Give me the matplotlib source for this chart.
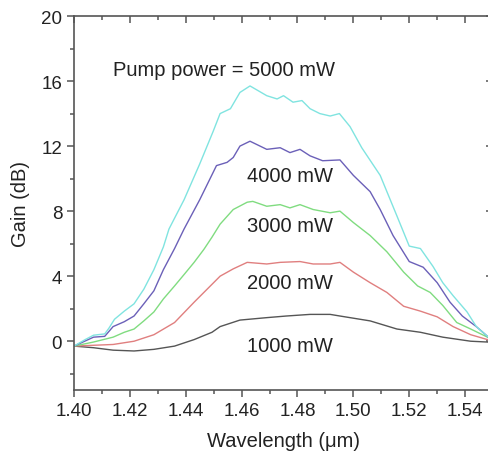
import numpy as np
import matplotlib.pyplot as plt
from matplotlib.ticker import MultipleLocator

plt.rcParams['font.family'] = ['Liberation Sans', 'DejaVu Sans']

# gain spectra for each pump power (wavelength in um, gain in dB)
wl_5000 = [1.400, 1.404, 1.407, 1.411, 1.4125, 1.4145, 1.418, 1.4215, 1.425, 1.4286, 1.432,
           1.434, 1.4394, 1.445, 1.4498, 1.4523, 1.456, 1.4594, 1.463, 1.469, 1.4727,
           1.475, 1.4784, 1.4816, 1.4845, 1.488, 1.4917, 1.495, 1.4988, 1.503, 1.5096,
           1.512, 1.5156, 1.520, 1.524, 1.5285, 1.532, 1.5357, 1.5407, 1.544, 1.548, 1.550]
g_5000 = [-0.3, 0.1, 0.37, 0.45, 0.8, 1.35, 1.85, 2.3, 3.2, 4.4, 5.8,
          6.9, 8.7, 10.9, 12.9, 14.0, 14.3, 15.3, 15.7, 15.1, 14.9,
          15.1, 14.7, 14.8, 14.3, 14.0, 13.85, 14.0, 13.2, 11.9, 10.2,
          9.2, 7.7, 5.85, 5.7, 4.6, 3.6, 2.8, 1.8, 0.9, 0.3, 0.0]

wl_4000 = [1.400, 1.407, 1.411, 1.414, 1.418, 1.4215, 1.425, 1.4286, 1.432, 1.436,
           1.4394, 1.445, 1.451, 1.4548, 1.457, 1.4594, 1.463, 1.469, 1.4738, 1.4773,
           1.4809, 1.4845, 1.489, 1.4952, 1.500, 1.506, 1.5096, 1.5142, 1.520, 1.525,
           1.530, 1.5346, 1.539, 1.544, 1.548, 1.550]
g_4000 = [-0.3, 0.25, 0.3, 0.9, 1.2, 1.55, 2.3, 3.1, 4.4, 5.7,
          6.9, 8.7, 10.8, 11.0, 11.3, 12.0, 12.3, 11.8, 11.9, 11.6,
          11.8, 11.4, 11.1, 11.15, 10.2, 9.2, 8.1, 6.5, 4.9, 4.55,
          3.6, 2.4, 1.55, 0.9, 0.3, 0.0]

wl_3000 = [1.400, 1.407, 1.414, 1.418, 1.4215, 1.425, 1.4286, 1.432, 1.436, 1.4394,
           1.443, 1.4465, 1.4494, 1.4523, 1.457, 1.462, 1.464, 1.469, 1.4738, 1.4773,
           1.4809, 1.4856, 1.4917, 1.4952, 1.500, 1.506, 1.512, 1.518, 1.523, 1.5275,
           1.532, 1.537, 1.542, 1.548, 1.550]
g_3000 = [-0.3, -0.05, 0.25, 0.55, 0.75, 1.25, 1.8, 2.6, 3.4, 4.1,
          4.85, 5.65, 6.4, 7.2, 8.1, 8.55, 8.6, 8.3, 8.4, 8.2,
          8.4, 8.1, 7.9, 8.0, 7.3, 6.5, 5.5, 4.25, 3.4, 3.0,
          2.2, 1.15, 0.75, 0.25, 0.0]

wl_2000 = [1.400, 1.407, 1.414, 1.4215, 1.4286, 1.436, 1.443, 1.4494, 1.4523, 1.457,
           1.462, 1.469, 1.4738, 1.4809, 1.4856, 1.4917, 1.4952, 1.500, 1.506, 1.512,
           1.518, 1.524, 1.530, 1.5357, 1.542, 1.548, 1.550]
g_2000 = [-0.3, -0.25, -0.2, 0.0, 0.4, 1.15, 2.4, 3.5, 4.0, 4.45,
          4.85, 4.75, 4.85, 4.9, 4.75, 4.75, 4.85, 4.25, 3.6, 3.0,
          2.15, 1.85, 1.5, 0.9, 0.4, 0.1, 0.0]

wl_1000 = [1.400, 1.407, 1.414, 1.4215, 1.4286, 1.436, 1.443, 1.4494, 1.4523, 1.4594,
           1.469, 1.476, 1.4845, 1.4917, 1.4952, 1.506, 1.5156, 1.524, 1.532, 1.542,
           1.548, 1.550]
g_1000 = [-0.3, -0.4, -0.55, -0.6, -0.5, -0.3, 0.1, 0.55, 0.9, 1.3,
          1.45, 1.55, 1.65, 1.65, 1.55, 1.25, 0.75, 0.55, 0.25, 0.0,
          -0.05, -0.1]

labels = ['Pump power = 5000 mW', '4000 mW', '3000 mW', '2000 mW', '1000 mW']
label_pos = [(1.4140, 16.7), (1.4619, 10.2), (1.4619, 7.1), (1.4619, 3.6), (1.4619, -0.25)]

fig = plt.figure(figsize=(4.89, 4.6), dpi=100)
ax = fig.add_axes([0.1513, 0.15, 0.857, 0.813])

ax.plot(wl_1000, g_1000, color='#555555', lw=1.0)
ax.plot(wl_2000, g_2000, color='#e07f7f', lw=1.0)
ax.plot(wl_3000, g_3000, color='#80dc80', lw=1.0)
ax.plot(wl_4000, g_4000, color='#6b60b8', lw=1.0)
ax.plot(wl_5000, g_5000, color='#80e4e0', lw=1.0)

for txt, (x, y) in zip(labels, label_pos):
    ax.text(x, y, txt, fontsize=14.5, color='#222222', ha='left', va='center')

ax.set_xlim(1.40, 1.55)
ax.set_ylim(-3, 20)
ax.xaxis.set_minor_locator(MultipleLocator(0.01))
ax.yaxis.set_minor_locator(MultipleLocator(2))
ax.set_xticks(np.arange(1.40, 1.541, 0.02))
ax.set_xticklabels(['%.2f' % v for v in np.arange(1.40, 1.541, 0.02)])
ax.set_yticks([0, 4, 8, 12, 16, 20])

for s in ax.spines.values():
    s.set_color('#555555')
    s.set_linewidth(1.2)

# bottom/left ticks outward, top/right ticks inward
ax.tick_params(which='both', direction='out', top=False, right=False,
               colors='#555555', labelcolor='#222222', labelsize=13.5, width=1.1)
ax.tick_params(which='major', length=5)
ax.tick_params(which='minor', length=3)
ax2 = ax.secondary_xaxis('top')
ax2.xaxis.set_major_locator(MultipleLocator(0.02))
ax2.xaxis.set_minor_locator(MultipleLocator(0.01))
ax2.tick_params(which='both', direction='in', labeltop=False, colors='#555555', width=1.1)
ax2.tick_params(which='major', length=5)
ax2.tick_params(which='minor', length=3)
ax2.spines['top'].set_visible(False)
ax3 = ax.secondary_yaxis('right')
ax3.yaxis.set_major_locator(MultipleLocator(4))
ax3.yaxis.set_minor_locator(MultipleLocator(2))
ax3.tick_params(which='both', direction='in', labelright=False, colors='#555555', width=1.1)
ax3.tick_params(which='major', length=5)
ax3.tick_params(which='minor', length=3)
ax3.spines['right'].set_visible(False)

ax.set_xlabel('Wavelength (\u03bcm)', fontsize=14.5, color='#222222', labelpad=9)
ax.set_ylabel('Gain (dB)', fontsize=14.5, color='#222222', labelpad=8)

plt.savefig('out.png', dpi=100)
